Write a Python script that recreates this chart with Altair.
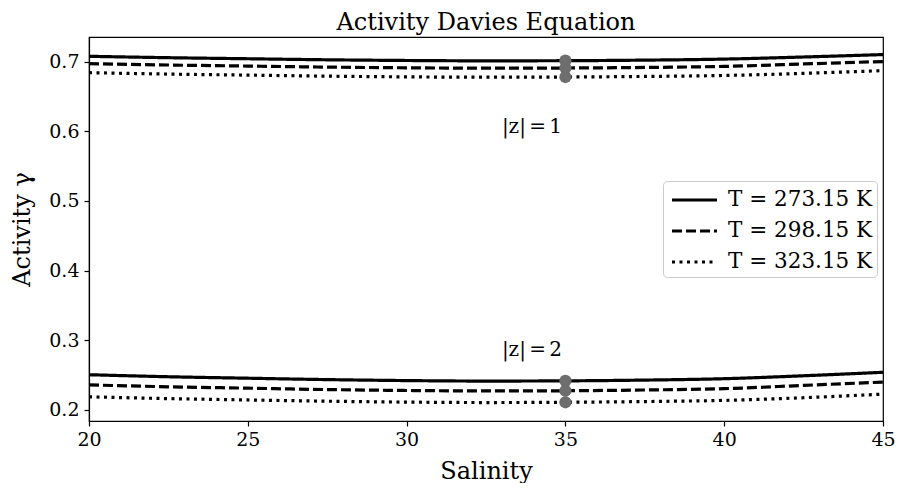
import altair as alt
import pandas as pd

salinity = [20, 22.5, 25, 27.5, 30, 32.5, 35, 37.5, 40, 42.5, 45]
temp_labels = ["T = 273.15 K", "T = 298.15 K", "T = 323.15 K"]

# |z| = 1
z1_t273 = [0.7075, 0.7055, 0.7040, 0.7025, 0.7015, 0.7010, 0.7012, 0.7020, 0.7035, 0.7065, 0.7100]
z1_t298 = [0.6970, 0.6950, 0.6935, 0.6920, 0.6910, 0.6905, 0.6907, 0.6915, 0.6930, 0.6965, 0.7000]
z1_t323 = [0.6840, 0.6820, 0.6805, 0.6790, 0.6780, 0.6775, 0.6778, 0.6786, 0.6800, 0.6830, 0.6870]
# |z| = 2
z2_t273 = [0.2506, 0.2477, 0.2456, 0.2436, 0.2422, 0.2415, 0.2418, 0.2429, 0.2449, 0.2491, 0.2541]
z2_t298 = [0.2360, 0.2333, 0.2313, 0.2293, 0.2280, 0.2273, 0.2276, 0.2287, 0.2306, 0.2353, 0.2401]
z2_t323 = [0.2189, 0.2163, 0.2144, 0.2126, 0.2113, 0.2107, 0.2111, 0.2121, 0.2138, 0.2176, 0.2228]

point_salinity = 35
points_z1 = [0.7012, 0.6907, 0.6778]
points_z2 = [0.2418, 0.2276, 0.2111]

ann_text = ["|z|\u2006=\u20061", "|z|\u2006=\u20062"]
ann_x = [33, 33]
ann_y = [0.6060, 0.2860]

x_ticks = [20, 25, 30, 35, 40, 45]
y_ticks = [0.2, 0.3, 0.4, 0.5, 0.6, 0.7]

FONT = "DejaVu Serif"

rows = []
for z, series in (("1", [z1_t273, z1_t298, z1_t323]), ("2", [z2_t273, z2_t298, z2_t323])):
    for lab, vals in zip(temp_labels, series):
        for s, g in zip(salinity, vals):
            rows.append({"S": s, "gamma": g, "T": lab, "z": z})
lines_df = pd.DataFrame(rows)

pts_df = pd.DataFrame(
    {"S": [point_salinity] * 6, "gamma": points_z1 + points_z2}
)
ann_df = pd.DataFrame({"S": ann_x, "gamma": ann_y, "txt": ann_text})

xscale = alt.Scale(domain=[20, 45], nice=False)
yscale = alt.Scale(domain=[0.1842, 0.7352], nice=False, zero=False)

lines = alt.Chart(lines_df).mark_line(color="black", strokeWidth=3.2, interpolate="monotone").encode(
    x=alt.X("S:Q", scale=xscale, title="Salinity",
            axis=alt.Axis(values=x_ticks, format="d")),
    y=alt.Y("gamma:Q", scale=yscale, title="Activity γ",
            axis=alt.Axis(values=y_ticks, format=".1f")),
    strokeDash=alt.StrokeDash(
        "T:N",
        scale=alt.Scale(domain=temp_labels, range=[[1, 0], [10, 4], [3, 4.5]]),
        legend=alt.Legend(
            title=None, orient="none", legendX=574, legendY=144,
            symbolType="M-0.77,0H2.69", symbolSize=676, symbolStrokeWidth=3.2,
            symbolStrokeColor="black", labelFont=FONT, labelFontSize=21.5,
            labelColor="black", labelOffset=31, rowPadding=5,
            padding=4, strokeColor="#cccccc", cornerRadius=4,
            fillColor="white",
        ),
    ),
    detail="z:N",
)

pts = alt.Chart(pts_df).mark_circle(color="#6e6e6e", opacity=1, size=150).encode(
    x=alt.X("S:Q", scale=xscale),
    y=alt.Y("gamma:Q", scale=yscale),
)

ann = alt.Chart(ann_df).mark_text(
    font=FONT, fontSize=20, align="left", baseline="middle", color="black"
).encode(
    x=alt.X("S:Q", scale=xscale),
    y=alt.Y("gamma:Q", scale=yscale),
    text="txt:N",
)

chart = (
    alt.layer(lines, pts, ann)
    .properties(
        width=794, height=384,
        title=alt.TitleParams("Activity Davies Equation", font=FONT, fontSize=24,
                              fontWeight="normal", color="black", offset=2),
        autosize=alt.AutoSizeParams(type="none"),
        padding={"left": 81, "top": 29, "right": 13, "bottom": 62},
    )
    .configure_view(stroke="black", strokeWidth=1.2)
    .configure_axis(
        grid=False, domainColor="black", domainWidth=1.2,
        tickColor="black", tickSize=5, tickWidth=1.2,
        labelFont=FONT, labelFontSize=19, labelColor="black",
        labelFlush=False, labelOverlap=False,
        titleFont=FONT, titleFontSize=24, titleFontWeight="normal", titleColor="black",
    )
    .configure_axisX(labelPadding=4, titlePadding=10)
    .configure_axisY(labelPadding=5, titlePadding=14)
)

chart.save("out.html", embed_options={"renderer": "svg", "actions": False})
